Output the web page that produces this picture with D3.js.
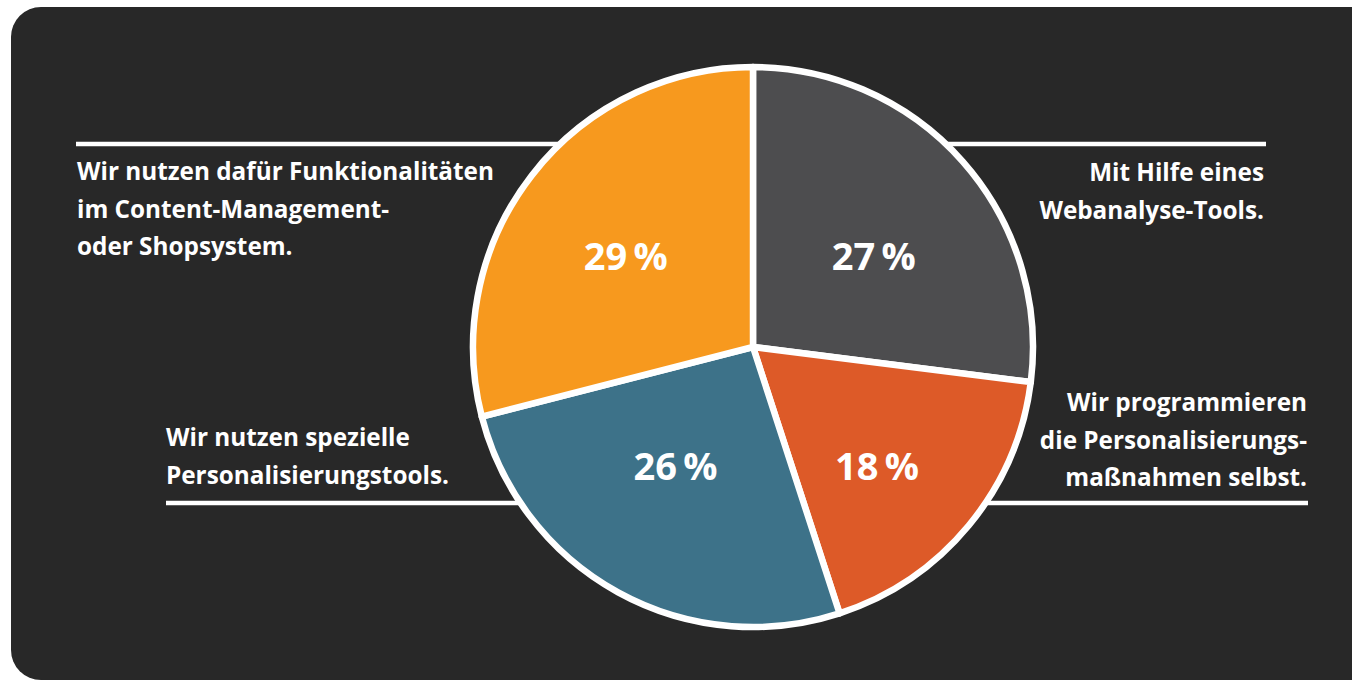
<!DOCTYPE html>
<html>
<head>
<meta charset="utf-8">
<script src="https://cdn.jsdelivr.net/npm/d3@7"></script>
<style>
  html, body { margin: 0; padding: 0; background: #fff; }
  svg { display: block; }
  .lbl { font-family: "Open Sans", sans-serif; font-weight: 700; fill: #fff; }
</style>
</head>
<body>
<svg id="chart" width="1352" height="683"></svg>
<script>
// data
var categories = [
    'Mit Hilfe eines Webanalyse-Tools.',
    'Wir programmieren die Personalisierungsmaßnahmen selbst.',
    'Wir nutzen spezielle Personalisierungstools.',
    'Wir nutzen dafür Funktionalitäten im Content-Management- oder Shopsystem.'
];
var shares = [27, 18, 26, 29];
var colors = ['#4d4d4f', '#dd5a28', '#3d7289', '#f7991e'];
var captionLines = [
    ['Mit Hilfe eines', 'Webanalyse-Tools.'],
    ['Wir programmieren', 'die Personalisierungs-', 'maßnahmen selbst.'],
    ['Wir nutzen spezielle', 'Personalisierungstools.'],
    ['Wir nutzen dafür Funktionalitäten', 'im Content-Management-', 'oder Shopsystem.']
];

var svg = d3.select('#chart');
var cx = 753, cy = 347, radius = 280;

svg.append('rect')
    .attr('x', 11).attr('y', 7)
    .attr('width', 1380).attr('height', 673)
    .attr('rx', 30).attr('ry', 30)
    .attr('fill', '#282828');

// caption layout: anchor x, first baseline, line y (per slice)
var captionLayout = [
    { x: 1264, y: 181, anchor: 'end', lineY: 144, lineFrom: 1266 },
    { x: 1307, y: 411, anchor: 'end', lineY: 503, lineFrom: 1308 },
    { x: 166, y: 446, anchor: 'start', lineY: 503, lineFrom: 166 },
    { x: 77, y: 180, anchor: 'start', lineY: 144, lineFrom: 76 }
];
var lineHeight = 37.5;

var caps = svg.append('g');
captionLines.forEach(function (lines, i) {
    var c = captionLayout[i];
    caps.append('line')
        .attr('x1', c.lineFrom).attr('x2', cx)
        .attr('y1', c.lineY).attr('y2', c.lineY)
        .attr('stroke', '#fff').attr('stroke-width', 4.5);
    var t = caps.append('text')
        .attr('class', 'lbl')
        .attr('font-size', 24.3)
        .attr('text-anchor', c.anchor);
    lines.forEach(function (s, j) {
        t.append('tspan')
            .attr('x', c.x)
            .attr('y', c.y + j * lineHeight)
            .text(s);
    });
});

var pie = d3.pie().sort(null).value(function (d) { return d; });
var arc = d3.arc().innerRadius(0).outerRadius(radius);
var labelArc = d3.arc().innerRadius(0).outerRadius(radius * 1.15);

var g = svg.append('g').attr('transform', 'translate(' + cx + ',' + cy + ')');
var arcs = pie(shares);

g.selectAll('path')
    .data(arcs)
  .enter().append('path')
    .attr('d', arc)
    .attr('fill', function (d, i) { return colors[i]; })
    .attr('stroke', '#fff')
    .attr('stroke-width', 6.5)
    .attr('stroke-linejoin', 'round');

// percentage labels, rows above / below the centre
g.selectAll('text.pct')
    .data(arcs)
  .enter().append('text')
    .attr('class', 'lbl pct')
    .attr('font-size', 38)
    .attr('text-anchor', 'middle')
    .attr('x', function (d) { return labelArc.centroid(d)[0]; })
    .attr('y', function (d) { return labelArc.centroid(d)[1] < 0 ? -77 : 133; })
    .text(function (d) { return d.data + '\u2009%'; });
</script>
</body>
</html>
